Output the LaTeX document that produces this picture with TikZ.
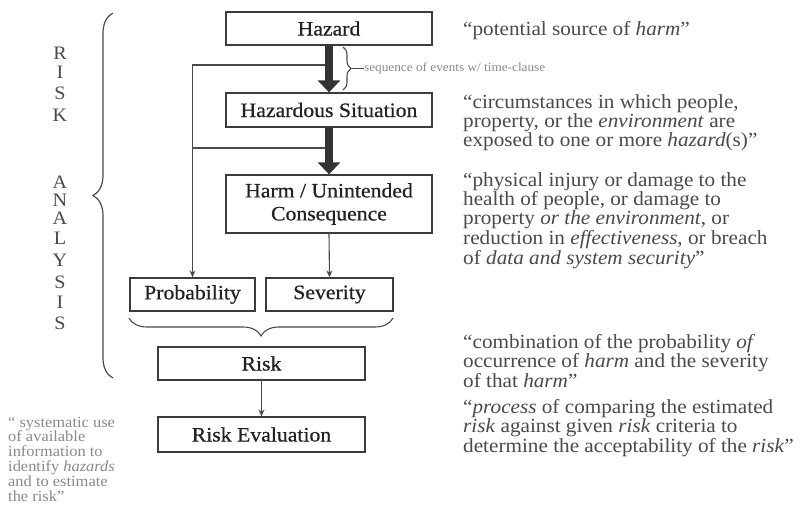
\documentclass[tikz,border=0pt]{standalone}
\usepackage{fontspec}
\setmainfont{Liberation Serif}[FakeStretch=1.06]
\newfontfamily\boxfam{Liberation Serif}[FakeStretch=1.06,FakeBold=0.6]
\usetikzlibrary{arrows.meta,decorations.pathreplacing}
\definecolor{boxline}{HTML}{3C3C3C}
\definecolor{boxtext}{HTML}{222222}
\definecolor{linecol}{HTML}{4A4A4A}
\definecolor{arrowcol}{HTML}{333333}
\definecolor{deftext}{HTML}{4A4A4A}
\definecolor{notetext}{HTML}{8A8A8A}
\newcommand\boxfont{\boxfam\fontsize{20.5}{23}\selectfont}
\newcommand\deffont{\fontsize{20}{19.5}\selectfont}
\newcommand\smallnote{\fontsize{12.5}{13}\selectfont}
\newcommand\leftnote{\fontsize{15.5}{14.8}\selectfont}
\newcommand\letterfont{\fontsize{19}{20}\selectfont}
\begin{document}
\begin{tikzpicture}[x=1pt,y=-1pt,
  stepbox/.style={draw=boxline, line width=1.3pt, fill=white, inner sep=0pt,
    font=\boxfont, text=boxtext, align=center},
  bigarrow/.style={draw=arrowcol, line width=8.5pt, -{Triangle[length=12pt,width=22pt]}},
  thinarrow/.style={draw=linecol, line width=1.1pt, -{Stealth[length=7pt,width=6pt]}},
  thinline/.style={draw=linecol, line width=1.1pt},
  bracestyle/.style={draw=linecol, line width=1.1pt, decorate},
  deftxt/.style={anchor=base west, inner sep=0pt, font=\deffont, text=deftext, align=left},
  letter/.style={inner sep=0pt, font=\letterfont, text=linecol}
]
\useasboundingbox[fill=white] (0,0) rectangle (801,516);

% boxes
\node[stepbox, minimum width=206pt, minimum height=33pt] (haz) at (329,28.5) {Hazard};
\node[stepbox, minimum width=206pt, minimum height=34pt] (hs) at (329,110) {Hazardous Situation};
\node[stepbox, minimum width=206pt, minimum height=58pt] (harm) at (329,204) {Harm / Unintended\\[0pt]Consequence};
\node[stepbox, minimum width=125pt, minimum height=33pt] (prob) at (192.5,294.5) {Probability};
\node[stepbox, minimum width=127pt, minimum height=33pt] (sev) at (329.5,294.5) {Severity};
\node[stepbox, minimum width=207pt, minimum height=33pt] (risk) at (261.5,363.5) {Risk};
\node[stepbox, minimum width=207pt, minimum height=35pt] (eval) at (261.5,434.5) {Risk Evaluation};

% feedback lines into Probability
\coordinate (j1) at (329,65);
\coordinate (j2) at (329,148);
\draw[thinarrow] (j1) -| (prob.north);
\draw[thinline] (j2) -- (j2 -| prob.north);

% thick arrows
\draw[bigarrow] (haz.south) -- (hs.north);
\draw[bigarrow] (hs.south) -- (harm.north);

% thin arrows
\draw[thinarrow] (harm.south) -- (sev.north);
\draw[thinarrow] (risk.south) -- (eval.north);

% small brace beside the first arrow
\coordinate (sb1) at (343,47);
\coordinate (sb2) at (343,90);
\draw[bracestyle, decoration={brace, amplitude=8pt}] (sb1) -- (sb2);
\coordinate (sbt) at (352,68.5);
\node[anchor=west, inner sep=0pt, font=\smallnote, text=notetext] (seqnote) at (364,68.5) {sequence of events w/ time-clause};
\draw[thinline, line width=0.9pt] (sbt) -- (seqnote.west);

% brace under Probability / Severity
\coordinate (bb1) at (393,318);
\coordinate (bb2) at (129,318);
\draw[bracestyle, decoration={brace, amplitude=18pt}] (bb1) -- (bb2);

% big left brace
\coordinate (lb1) at (113,378);
\coordinate (lb2) at (113,13);
\draw[bracestyle, line width=1.2pt, decoration={brace, amplitude=20pt}] (lb1) -- (lb2);

% RISK ANALYSIS letters
\foreach \ch/\yy [count=\i] in {R/53,I/72,S/93,K/115,A/182,N/200,A/218,L/238,Y/260,S/282,I/302,S/323}
  \node[letter] (let\i) at (60,\yy) {\ch};

% definitions on the right (anchor = baseline of the last line)
\node[deftxt] (d1) at (463,36) {“potential source of \emph{harm}”};
\node[deftxt] (d2) at (463,147) {“circumstances in which people,\\ property, or the \emph{environment} are\\ exposed to one or more \emph{hazard}(s)”};
\node[deftxt] (d3) at (463,264) {“physical injury or damage to the\\ health of people, or damage to\\ property \emph{or the environment}, or\\ reduction in \emph{effectiveness}, or breach\\ of \emph{data and system security}”};
\node[deftxt] (d4) at (463,387) {“combination of the probability \emph{of}\\ occurrence of \emph{harm} and the severity\\ of that \emph{harm}”};
\node[deftxt] (d5) at (463,452) {“\emph{process} of comparing the estimated\\ \emph{risk} against given \emph{risk} criteria to\\ determine the acceptability of the \emph{risk}”};

% note bottom left
\node[anchor=base west, inner sep=0pt, font=\leftnote, text=notetext, align=left] (ranote) at (8,501)
  {“ systematic use\\ of available\\ information to\\ identify \emph{hazards}\\ and to estimate\\ the risk”};
\end{tikzpicture}
\end{document}
